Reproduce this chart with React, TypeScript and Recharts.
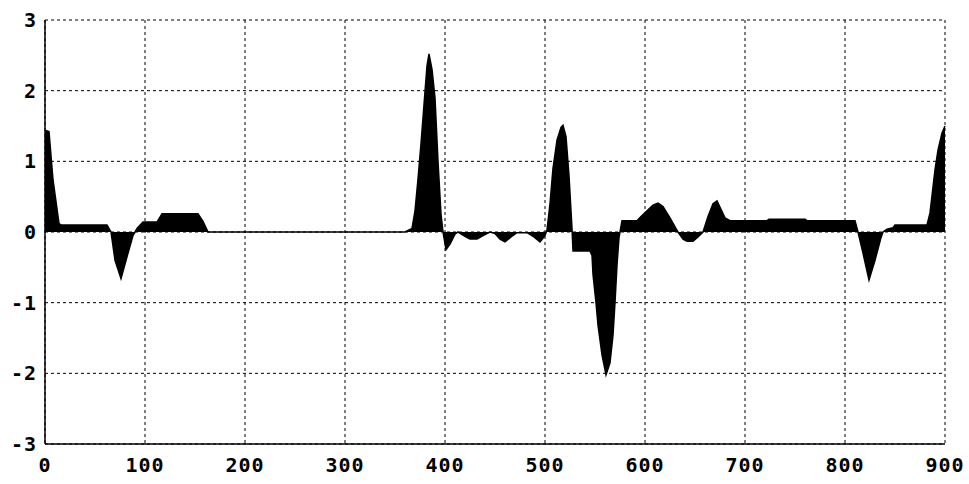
import { Area, AreaChart, CartesianGrid, XAxis, YAxis } from "recharts";

// sample positions and values
const xs = [
  0, 4, 8, 14, 16, 62, 66, 70, 76, 82, 88, 92, 98, 112, 117, 153, 158, 163,
  360, 364, 367, 370, 373, 376, 379, 382, 384, 387, 390, 393, 396, 398, 401,
  405, 410, 413, 420, 425, 432, 438, 445, 450, 455, 460, 466, 472, 482, 488,
  495, 500, 502, 505, 508, 512, 516, 518, 521, 524, 527, 528, 545, 547, 548,
  551, 553, 557, 561, 565, 568, 570, 572, 574, 575, 577, 592, 596, 602, 608,
  613, 618, 625, 633, 638, 642, 648, 653, 658, 663, 668, 672, 676, 680, 685,
  722, 724, 760, 762, 810, 813, 818, 824, 830, 836, 838, 842, 848, 850, 882,
  885, 890, 893, 897, 900,
];
const ys = [
  1.44, 1.42, 0.74, 0.12, 0.1, 0.1, 0, -0.4, -0.66, -0.35, -0.05, 0.05, 0.14,
  0.14, 0.26, 0.26, 0.15, 0, 0, 0.03, 0.05, 0.3, 0.75, 1.25, 1.8, 2.35, 2.52,
  2.3, 1.9, 1.0, 0.25, 0, -0.25, -0.17, -0.03, 0, -0.06, -0.1, -0.1, -0.05, 0,
  -0.02, -0.1, -0.14, -0.07, -0.01, -0.01, -0.06, -0.14, -0.05, 0.03, 0.4, 0.9,
  1.3, 1.48, 1.51, 1.35, 0.8, 0.05, -0.27, -0.27, -0.33, -0.6, -1.0, -1.32,
  -1.74, -2.02, -1.85, -1.46, -1.0, -0.47, -0.08, 0, 0.16, 0.16, 0.22, 0.3,
  0.38, 0.41, 0.36, 0.2, 0, -0.1, -0.13, -0.13, -0.07, 0, 0.22, 0.4, 0.44,
  0.32, 0.2, 0.16, 0.16, 0.18, 0.18, 0.16, 0.16, 0, -0.3, -0.68, -0.4, -0.08,
  0, 0.04, 0.06, 0.1, 0.1, 0.27, 0.88, 1.16, 1.4, 1.5,
];
const xTicks = [0, 100, 200, 300, 400, 500, 600, 700, 800, 900];
const yTicks = [-3, -2, -1, 0, 1, 2, 3];

const data = xs.map((x, i) => ({ x, y: ys[i] }));

const tickFont = {
  fill: "#000",
  fontSize: 20,
  fontWeight: 700,
  fontFamily: "DejaVu Sans Mono",
  letterSpacing: 1,
};
const blank = () => "";

export default function App() {
  return (
    <div style={{ position: "absolute", left: 0, top: 0, background: "#fff" }}>
      <AreaChart
        width={969}
        height={484}
        data={data}
        margin={{ top: 20, right: 24, left: 0, bottom: 0 }}
      >
        <CartesianGrid stroke="#000" strokeDasharray="3 3" />
        <XAxis
          dataKey="x"
          type="number"
          domain={[0, 900]}
          ticks={xTicks}
          interval={0}
          height={40}
          tickLine={false}
          tickMargin={8}
          axisLine={{ stroke: "#000", strokeWidth: 1.5 }}
          tick={tickFont}
        />
        <YAxis
          type="number"
          domain={[-3, 3]}
          ticks={yTicks}
          interval={0}
          width={45}
          tickLine={false}
          tickMargin={2}
          axisLine={{ stroke: "#000", strokeWidth: 1.5 }}
          tick={tickFont}
        />
        {/* inward tick marks and the top/right frame */}
        <XAxis
          xAxisId="innerBottom"
          dataKey="x"
          type="number"
          domain={[0, 900]}
          ticks={xTicks}
          interval={0}
          height={0}
          mirror
          tickSize={10}
          tickFormatter={blank}
          axisLine={false}
          tickLine={{ stroke: "#000", strokeWidth: 1.5 }}
        />
        <XAxis
          xAxisId="innerTop"
          orientation="top"
          dataKey="x"
          type="number"
          domain={[0, 900]}
          ticks={xTicks}
          interval={0}
          height={0}
          mirror
          tickSize={12}
          tickFormatter={blank}
          axisLine={{ stroke: "#000", strokeWidth: 1.5 }}
          tickLine={{ stroke: "#000", strokeWidth: 1.5 }}
        />
        <YAxis
          yAxisId="innerLeft"
          type="number"
          domain={[-3, 3]}
          ticks={yTicks}
          interval={0}
          width={0}
          mirror
          tickSize={14}
          tickFormatter={blank}
          axisLine={false}
          tickLine={{ stroke: "#000", strokeWidth: 1.5 }}
        />
        <YAxis
          yAxisId="innerRight"
          orientation="right"
          type="number"
          domain={[-3, 3]}
          ticks={yTicks}
          interval={0}
          width={0}
          mirror
          tickSize={14}
          tickFormatter={blank}
          axisLine={{ stroke: "#000", strokeWidth: 1.5 }}
          tickLine={{ stroke: "#000", strokeWidth: 1.5 }}
        />
        <Area
          type="linear"
          dataKey="y"
          stroke="#000"
          strokeWidth={1.5}
          fill="#000"
          fillOpacity={1}
          dot={false}
          activeDot={false}
          isAnimationActive={false}
        />
      </AreaChart>
    </div>
  );
}
